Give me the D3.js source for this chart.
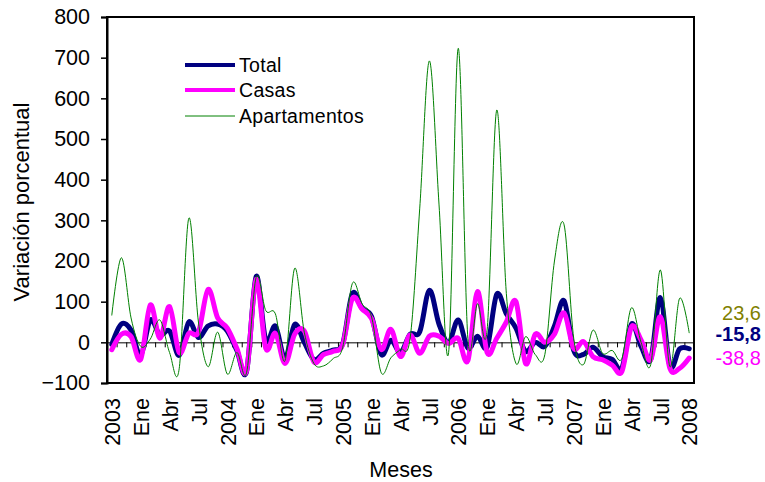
<!DOCTYPE html>
<html><head><meta charset="utf-8">
<script src="https://cdn.jsdelivr.net/npm/d3@7"></script>
<style>
body{margin:0;background:#fff;}
text{font-family:"Liberation Sans",Arial,sans-serif;}
</style></head>
<body><svg id="c" width="765" height="482"></svg>
<script>
const tickLabels = ["2003","Ene","Abr","Jul","2004","Ene","Abr","Jul","2005","Ene","Abr","Jul","2006","Ene","Abr","Jul","2007","Ene","Abr","Jul","2008"];
const yTicks = [-100,0,100,200,300,400,500,600,700,800];
const seriesNames = ["Total","Casas","Apartamentos"];
const total = [-5,45,30,-32,55,18,28,-32,50,12,40,45,28,-20,-72,162,5,40,-40,44,0,-42,-27,-19,-3,120,84,63,-30,5,-25,20,26,128,45,0,55,-14,15,-12,118,70,35,-22,0,-10,40,102,-20,-30,-12,-35,-42,-64,45,-10,-42,110,-58,-16,-15.8];
const casas = [-18,20,14,-42,92,10,88,-25,22,25,130,60,35,-15,-70,155,-15,22,-52,20,28,-48,-30,-22,-5,108,82,58,-18,32,-35,18,-27,15,15,-3,10,-45,125,-25,10,50,100,-52,20,0,20,72,-15,2,-35,-43,-56,-72,38,6,-43,63,-64,-64,-38.8];
const apartamentos = [67,208,60,-10,8,55,-25,-65,305,50,-60,25,-78,-25,-75,160,78,70,-45,182,25,-52,-58,-40,-12,145,95,62,-75,-38,-17,10,330,692,340,-25,723,10,95,30,571,120,-52,14,-30,-30,200,289,10,-55,30,-27,-20,-40,85,0,-55,178,-60,108,23.6];
const endLabels = ["23,6","-15,8","-38,8"];

const svg = d3.select("#c");
const L=107, R=694, T=17, B=383;
const idx = d3.range(total.length);
const x = d3.scalePoint().domain(idx).range([L,R]).padding(0.5);
const xb = d3.scaleLinear().domain([0, total.length]).range([L,R]);
const y = d3.scaleLinear().domain([-100,800]).range([B,T]);

// frame
svg.append("rect").attr("x",L).attr("y",T).attr("width",R-L).attr("height",B-T)
  .attr("fill","#fff").attr("stroke","#000").attr("stroke-width",2);

// y axis
const ya = svg.append("g").attr("transform",`translate(${L},0)`)
  .call(d3.axisLeft(y).tickValues(yTicks).tickSize(6).tickPadding(11));
ya.select(".domain").attr("stroke-width",2);
ya.selectAll("line").attr("stroke-width",1.5);
ya.selectAll("text").attr("font-size","21.5px").attr("fill","#000").attr("font-family","Liberation Sans, Arial");

// category labels at bottom
const xa = svg.append("g").attr("transform",`translate(0,${B})`)
  .call(d3.axisBottom(x).tickValues(d3.range(0,total.length,3)).tickSize(0)
    .tickFormat((d,i)=>tickLabels[i]));
xa.select(".domain").remove();
xa.selectAll("text").attr("font-size","21.5px").attr("fill","#000").attr("font-family","Liberation Sans, Arial")
  .attr("transform","rotate(-90)").attr("x",-15).attr("y",0).attr("dy","0.36em").attr("text-anchor","end");

// zero line with category ticks
const za = svg.append("g").attr("transform",`translate(0,${y(0)})`)
  .call(d3.axisBottom(xb).tickValues(d3.range(0,total.length+1)).tickSize(5).tickFormat(""));
za.select(".domain").attr("stroke","#000").attr("stroke-width",1);
za.selectAll("line").attr("stroke","#000").attr("stroke-width",1);

// lines
const line = d3.line().x((d,i)=>x(i)).y(d=>y(d)).curve(d3.curveCardinal);
const styles = [
  {data: total, color:"#000080", w:5},
  {data: casas, color:"#ff00ff", w:5},
  {data: apartamentos, color:"#008000", w:1}
];
styles.forEach(s=>{
  svg.append("path").datum(s.data).attr("d",line).attr("fill","none")
    .attr("stroke",s.color).attr("stroke-width",s.w).attr("stroke-linejoin","round").attr("stroke-linecap","round");
});

// legend
const lg = svg.append("g");
const legY = [65,90,116];
seriesNames.forEach((n,i)=>{
  lg.append("line").attr("x1",185).attr("x2",235).attr("y1",legY[i]).attr("y2",legY[i])
    .attr("stroke",styles[i].color).attr("stroke-width",i<2?4:1);
  lg.append("text").attr("x",239).attr("y",legY[i]+7).text(n)
    .attr("font-size","19.5px").attr("letter-spacing","0.3px").attr("fill","#000");
});

// end labels
const endColors = ["#808000","#000080","#ff00ff"];
const endY = [320,341,365];
endLabels.forEach((t,i)=>{
  svg.append("text").attr("x",761).attr("y",endY[i]).attr("text-anchor","end")
    .attr("font-size","20px").attr("font-weight",i===1?"bold":"normal")
    .attr("fill",endColors[i]).text(t);
});

// axis titles
svg.append("text").attr("transform","translate(29,202) rotate(-90)").attr("text-anchor","middle")
  .attr("font-size","22px").attr("fill","#000").text("Variación porcentual");
svg.append("text").attr("x",401).attr("y",477).attr("text-anchor","middle")
  .attr("font-size","21.5px").attr("fill","#000").text("Meses");
</script></body></html>
